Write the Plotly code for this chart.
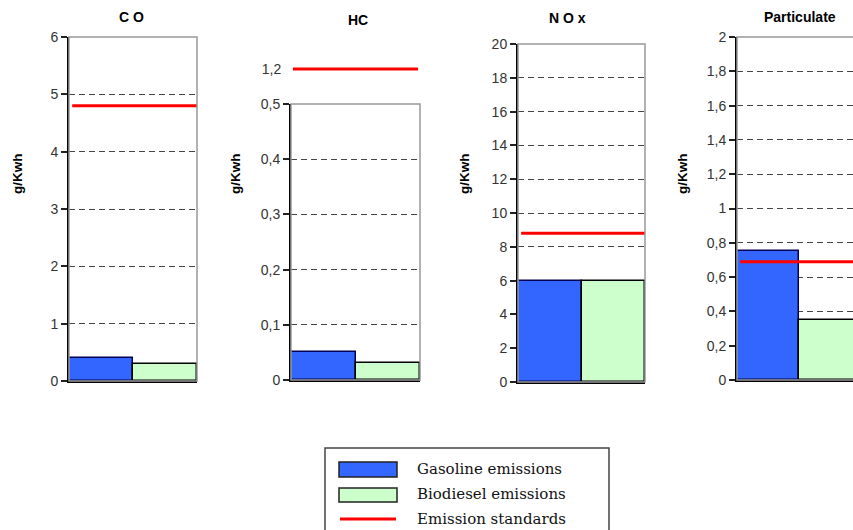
import plotly.graph_objects as go

# ---- data ----
pollutants = ["C O", "HC", "N O x", "Particulate"]
gasoline = [0.4, 0.05, 6.0, 0.75]
biodiesel = [0.3, 0.03, 6.0, 0.35]
standards = [4.8, 1.2, 8.8, 0.69]
y_max = [6, 0.5, 20, 2]
y_step = [1, 0.1, 2, 0.2]
legend_labels = ["Gasoline emissions", "Biodiesel emissions", "Emission standards"]

W, H = 853, 530
def fx(px): return px / W
def fy(py): return 1 - py / H

# plot boxes in pixels: (left, right, top, bottom)
boxes = [(69, 197, 37, 381), (291, 420, 104, 380), (518, 645, 44, 382), (737, 853, 37, 380)]
title_pos = [(131, 17), (358, 20), (567, 18), (800, 17)]
ylab_x = [18, 236, 465, 683]

BLUE, GREEN, RED = "#3366FF", "#CCFFCC", "#FF0000"
TICKFONT = dict(family="Liberation Sans, Arial", size=14, color="#333")
fig = go.Figure()
shapes, annotations = [], []

for i in range(4):
    n = "" if i == 0 else str(i + 1)
    xa, ya = "x" + n, "y" + n
    l, r, t, b = boxes[i]
    fig.add_trace(go.Bar(x=[0], y=[gasoline[i]], width=1, marker=dict(color=BLUE, line=dict(color="#000055", width=1.5)),
                         xaxis=xa, yaxis=ya, showlegend=False))
    fig.add_trace(go.Bar(x=[1], y=[biodiesel[i]], width=1, marker=dict(color=GREEN, line=dict(color="#000000", width=1.5)),
                         xaxis=xa, yaxis=ya, showlegend=False))
    xrange = [-0.5, 1.5] if i < 3 else [-0.5, -0.5 + (r - l) / 61.5]
    fig.layout["xaxis" + n] = dict(domain=[fx(l), fx(r)], range=xrange, showticklabels=False, ticks="",
                                   showgrid=False, zeroline=False, showline=True, linecolor="#000", linewidth=2,
                                   anchor=ya, fixedrange=True, automargin=False)
    fig.layout["yaxis" + n] = dict(domain=[fy(b), fy(t)], range=[0, y_max[i]], dtick=y_step[i], tick0=0,
                                   showgrid=True, gridcolor="#444", gridwidth=1.2, griddash="6px,4px",
                                   zeroline=False, showline=True, linecolor="#000", linewidth=2,
                                   ticks="outside", ticklen=6, tickcolor="#222", tickwidth=1.5,
                                   tickfont=TICKFONT, anchor=xa, fixedrange=True, automargin=False)
    # gray frame (top/right)
    shapes.append(dict(type="rect", xref=xa + " domain", yref=ya + " domain", x0=0, x1=1 if i < 3 else 1.2,
                       y0=0, y1=1, line=dict(color="#999", width=1.5), layer="above"))
    # standards line
    if i == 1:
        fig.add_trace(go.Scatter(x=[-0.47, 1.47], y=[standards[i]] * 2, mode="lines",
                                 line=dict(color=RED, width=3), xaxis=xa, yaxis="y5", showlegend=False))
    else:
        fig.add_trace(go.Scatter(x=[-0.45, 1.6], y=[standards[i]] * 2, mode="lines",
                                 line=dict(color=RED, width=3), xaxis=xa, yaxis=ya, showlegend=False))
    annotations.append(dict(text="<b>%s</b>" % pollutants[i], x=fx(title_pos[i][0]), y=fy(title_pos[i][1]),
                            xref="paper", yref="paper", showarrow=False, xanchor="center", yanchor="middle",
                            font=dict(family="Liberation Sans, Arial", size=14, color="#000")))
    annotations.append(dict(text="<b>g/Kwh</b>", x=fx(ylab_x[i]), y=fy(174), textangle=-90,
                            xref="paper", yref="paper", showarrow=False, xanchor="center", yanchor="middle",
                            font=dict(family="Liberation Sans, Arial", size=13.5, color="#000")))

# HC broken-axis upper segment
fig.layout["yaxis5"] = dict(domain=[fy(83), fy(55)], range=[1.1, 1.3], tickvals=[1.2], showgrid=False,
                            zeroline=False, showline=False, ticks="outside", ticklen=6, tickcolor="rgba(0,0,0,0)",
                            tickfont=TICKFONT, anchor="x2", fixedrange=True, automargin=False)

# custom legend
shapes.append(dict(type="rect", xref="paper", yref="paper", x0=fx(325), x1=fx(609), y0=fy(560), y1=fy(448),
                   line=dict(color="#444", width=1.5), fillcolor="white", layer="below"))
shapes.append(dict(type="rect", xref="paper", yref="paper", x0=fx(339), x1=fx(397), y0=fy(477), y1=fy(462),
                   line=dict(color="#222", width=1.5), fillcolor=BLUE))
shapes.append(dict(type="rect", xref="paper", yref="paper", x0=fx(339), x1=fx(397), y0=fy(502), y1=fy(488),
                   line=dict(color="#222", width=1.5), fillcolor=GREEN))
shapes.append(dict(type="line", xref="paper", yref="paper", x0=fx(340), x1=fx(396), y0=fy(519), y1=fy(519),
                   line=dict(color=RED, width=3)))
for lab, py in zip(legend_labels, [469, 494, 519]):
    annotations.append(dict(text=lab, x=fx(415), y=fy(py), xref="paper", yref="paper", showarrow=False,
                            xanchor="left", yanchor="middle",
                            font=dict(family="DejaVu Serif", size=15, color="#111")))

fig.update_layout(width=W, height=H, margin=dict(l=0, r=0, t=0, b=0, autoexpand=False), paper_bgcolor="white",
                  plot_bgcolor="white", separators=", ", barmode="overlay", bargap=0,
                  shapes=shapes, annotations=annotations, showlegend=False)
fig.write_html("out.html")
